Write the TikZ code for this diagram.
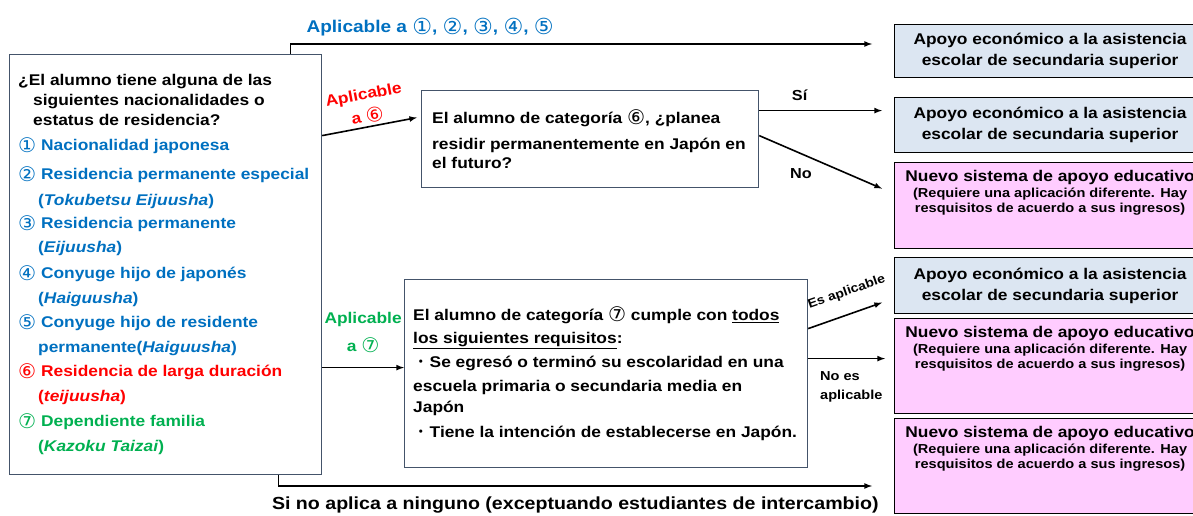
\documentclass[tikz,border=0pt]{standalone}
\usepackage{fontspec}
\setmainfont{Liberation Sans}[FakeStretch=1.12]
\newfontfamily\symfont{DejaVu Sans}[Scale=1.3]
\newfontfamily\jpfont{Noto Sans CJK JP}
\usetikzlibrary{arrows,positioning}
\definecolor{jblue}{HTML}{0070C0}
\definecolor{jred}{HTML}{FF0000}
\definecolor{jgreen}{HTML}{00B050}
\definecolor{boxline}{HTML}{44546A}
\definecolor{paleblue}{HTML}{DCE6F2}
\definecolor{palepink}{HTML}{FFCCFF}
\newcommand\cnum[1]{\raisebox{-1.5pt}{\symfont\mdseries #1}}
\newcommand\jpdot{{\jpfont\mdseries ・}}
\newcommand\smallfont{\fontsize{13}{13}\selectfont}

\begin{document}
\begin{tikzpicture}[x=1pt,y=-1pt,>=latex,font=\fontsize{15.5}{20}\selectfont\bfseries,
  qbox/.style={draw=boxline,line width=1.2pt,anchor=north west,inner sep=0pt},
  qtext/.style={inner sep=0pt,align=left,anchor=west},
  rbox/.style={draw=black,line width=1.2pt,anchor=north west,minimum width=311pt,inner sep=0pt,align=center},
  bluebox/.style={rbox,fill=paleblue,font=\fontsize{15.5}{21}\selectfont\bfseries},
  pinkbox/.style={rbox,fill=palepink},
  pinktext/.style={inner sep=0pt,align=center,anchor=north},
  lbl/.style={inner sep=0pt,font=\fontsize{14.5}{17}\selectfont\bfseries},
  flow/.style={->,line width=1.6pt}]
  \useasboundingbox (0,0) rectangle (1193,516);
  \clip (0,0) rectangle (1193,516);

  % question boxes
  \node[qbox,minimum width=312pt,minimum height=420pt] (lq) at (9,54) {};
  \node[qtext,right=9pt of lq.west] (lqt) {%
    ¿El alumno tiene alguna de las\\
    \hspace*{15pt}siguientes nacionalidades o\\
    \hspace*{15pt}estatus de residencia?\\[5pt]
    \textcolor{jblue}{\cnum{①} Nacionalidad japonesa}\\[9pt]
    \textcolor{jblue}{\cnum{②} Residencia permanente especial}\\[6pt]
    \textcolor{jblue}{\hspace*{20pt}(\textit{Tokubetsu Eijuusha})}\\[3pt]
    \textcolor{jblue}{\cnum{③} Residencia permanente}\\[4pt]
    \textcolor{jblue}{\hspace*{20pt}(\textit{Eijuusha})}\\[6pt]
    \textcolor{jblue}{\cnum{④} Conyuge hijo de japonés}\\[5pt]
    \textcolor{jblue}{\hspace*{20pt}(\textit{Haiguusha})}\\[4pt]
    \textcolor{jblue}{\cnum{⑤} Conyuge hijo de residente}\\[5pt]
    \textcolor{jblue}{\hspace*{20pt}permanente(\textit{Haiguusha})}\\[4pt]
    \textcolor{jred}{\cnum{⑥} Residencia de larga duración}\\[5pt]
    \textcolor{jred}{\hspace*{20pt}(\textit{teijuusha})}\\[5pt]
    \textcolor{jgreen}{\cnum{⑦} Dependiente familia}\\[5pt]
    \textcolor{jgreen}{\hspace*{20pt}(\textit{Kazoku Taizai})}};

  \node[qbox,minimum width=337pt,minimum height=97pt] (q6) at (421,90) {};
  \node[qtext,right=11pt of q6.west,font=\fontsize{15.5}{19}\selectfont\bfseries] (q6t) {%
    El alumno de categoría \cnum{⑥}, ¿planea\\[7pt]
    residir permanentemente en Japón en\\
    el futuro?};

  \node[qbox,minimum width=403pt,minimum height=188pt] (q7) at (404,279) {};
  \node[qtext,right=9pt of q7.west] (q7t) {%
    El alumno de categoría \cnum{⑦} cumple con \underline{todos}\\[3pt]
    \underline{los siguientes requisitos}:\\[4pt]
    \jpdot\hspace{1pt}Se egresó o terminó su escolaridad en una\\[4pt]
    escuela primaria o secundaria media en\\[1pt]
    Japón\\[5pt]
    \jpdot\hspace{1pt}Tiene la intención de establecerse en Japón.};

  % result boxes
  \node[bluebox,minimum height=53pt] (r1) at (894,24) {Apoyo económico a la asistencia\\escolar de secundaria superior};
  \node[bluebox,minimum height=55pt] (r2) at (894,97) {Apoyo económico a la asistencia\\escolar de secundaria superior};
  \node[pinkbox,minimum height=86pt] (r3) at (894,162) {};
  \node[bluebox,minimum height=56pt] (r4) at (894,257) {Apoyo económico a la asistencia\\escolar de secundaria superior};
  \node[pinkbox,minimum height=95pt] (r5) at (894,318) {};
  \node[pinkbox,minimum height=95pt] (r6) at (894,418) {};
  \foreach \r in {r3,r5,r6}
    \node[pinktext,below=8.5pt of \r.north] (\r t) {Nuevo sistema de apoyo educativo\\[-4.5pt]
      {\smallfont (Requiere una aplicación diferente. Hay}\\[-5pt]
      {\smallfont resquisitos de acuerdo a sus ingresos)}};

  % connectors
  \coordinate (topend) at (872,44);
  \coordinate (botend) at (872,486);
  \coordinate (s6) at ([yshift=28.5pt]q6.east);
  \coordinate (n7) at ([yshift=15pt]q7.east);
  \coordinate (a7) at ([yshift=6pt]q7.west);

  \draw[flow] ([xshift=125pt]lq.north) |- node[pos=0.62,above=7pt,inner sep=0pt,text=jblue,font=\fontsize{17}{20}\selectfont\bfseries]
    {Aplicable a \cnum{①}, \cnum{②}, \cnum{③}, \cnum{④}, \cnum{⑤}} (topend);
  \draw[flow] ([yshift=129pt]lq.east) -- node[sloped,above=3pt,inner sep=0pt,align=center,text=jred,font=\fontsize{15.5}{22}\selectfont\bfseries]
    {Aplicable\\a \cnum{⑥}} ([xshift=-4pt,yshift=21.5pt]q6.west);
  \draw[flow] (lq.east |- a7) -- node[above=14pt,inner sep=0pt,align=center,text=jgreen,font=\fontsize{15.5}{28}\selectfont\bfseries]
    {Aplicable\\a \cnum{⑦}} (a7);
  \draw[flow] ([xshift=113pt]lq.south) |- node[pos=0.75,below=10pt,inner sep=0pt,font=\fontsize{17.5}{20}\selectfont\bfseries]
    {Si no aplica a ninguno (exceptuando estudiantes de intercambio)} (botend);

  \draw[flow,shorten >=12pt] (s6) -- node[lbl,pos=0.3,above=9pt] {Sí} (s6 -| r2.west);
  \draw[flow] ([yshift=3.5pt]q6.east) -- node[lbl,pos=0.34,below=14pt] {No} ([xshift=-12pt,yshift=17pt]r3.west);
  \draw[flow] ([yshift=45pt]q7.east) -- node[lbl,sloped,pos=0.62,above=15pt,font=\fontsize{12.5}{15}\selectfont\bfseries] {Es aplicable} ([xshift=-12pt,yshift=-17pt]r4.west);
  \draw[flow,shorten >=9pt] (n7) -- node[lbl,pos=0.13,below right=12pt and 0pt,align=left,font=\fontsize{13}{19}\selectfont\bfseries]
    {No es\\aplicable} (n7 -| r5.west);
\end{tikzpicture}
\end{document}
